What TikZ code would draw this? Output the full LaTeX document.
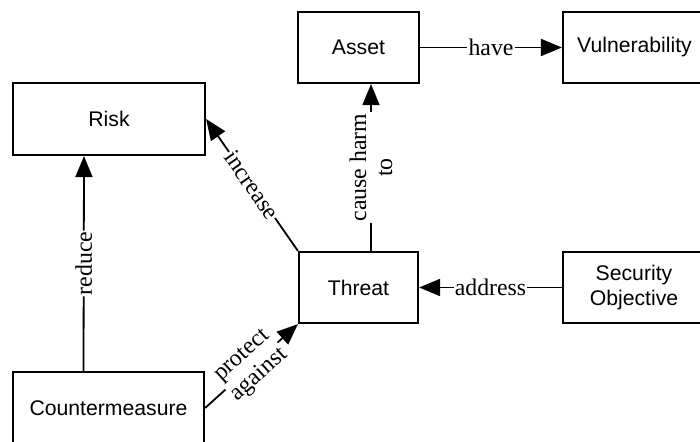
\documentclass[tikz,border=0pt]{standalone}
\usepackage{fontspec}
\setmainfont{Liberation Serif}
\setsansfont{Liberation Sans}
\usetikzlibrary{arrows.meta}
\begin{document}
\begin{tikzpicture}[x=0.5pt,y=-0.5pt,
  concept/.style={draw, line width=1.1pt, rectangle, inner sep=0pt,
    font=\sffamily\fontsize{10.6}{12.5}\selectfont, align=center},
  rel/.style={line width=0.9pt, -{Triangle[length=10.5pt,width=8.5pt]}},
  lbl/.style={fill=white, inner sep=0.6pt, align=center,
    font=\fontsize{11.9}{13}\selectfont}]
\clip (0,0) rectangle (700,442);
% concepts
\node[concept, minimum width=60.5pt, minimum height=35.5pt] (asset) at (358.5,47.5) {Asset};
\node[concept, minimum width=71.5pt, minimum height=35.5pt] (vuln) at (634.5,47.5) {Vulnerability};
\node[concept, minimum width=96pt, minimum height=36pt] (risk) at (109,119) {Risk};
\node[concept, minimum width=59.5pt, minimum height=35.5pt] (threat) at (358.5,287.5) {Threat};
\node[concept, minimum width=71pt, minimum height=35.5pt] (secobj) at (634,287.5) {Security\\Objective};
\node[concept, minimum width=95.5pt, minimum height=36pt] (counter) at (108.5,408) {Countermeasure};
% relations
\draw[rel] (asset.east) -- node[lbl] {have} (vuln.west);
\draw[rel] ([xshift=6.25pt]threat.north) -- node[lbl, sloped] {cause harm\\to} ([xshift=6.25pt]asset.south);
\draw[rel] (threat.north west) -- node[lbl, sloped] {increase} (risk.east);
\draw[rel] ([xshift=-12.5pt]counter.north) -- node[lbl, sloped] {reduce} ([xshift=-12.5pt]risk.south);
\draw[rel] (counter.east) -- node[lbl, sloped] {protect\\against} (threat.south west);
\draw[rel] (secobj.west) -- node[lbl] {address} (threat.east);
\end{tikzpicture}
\end{document}
